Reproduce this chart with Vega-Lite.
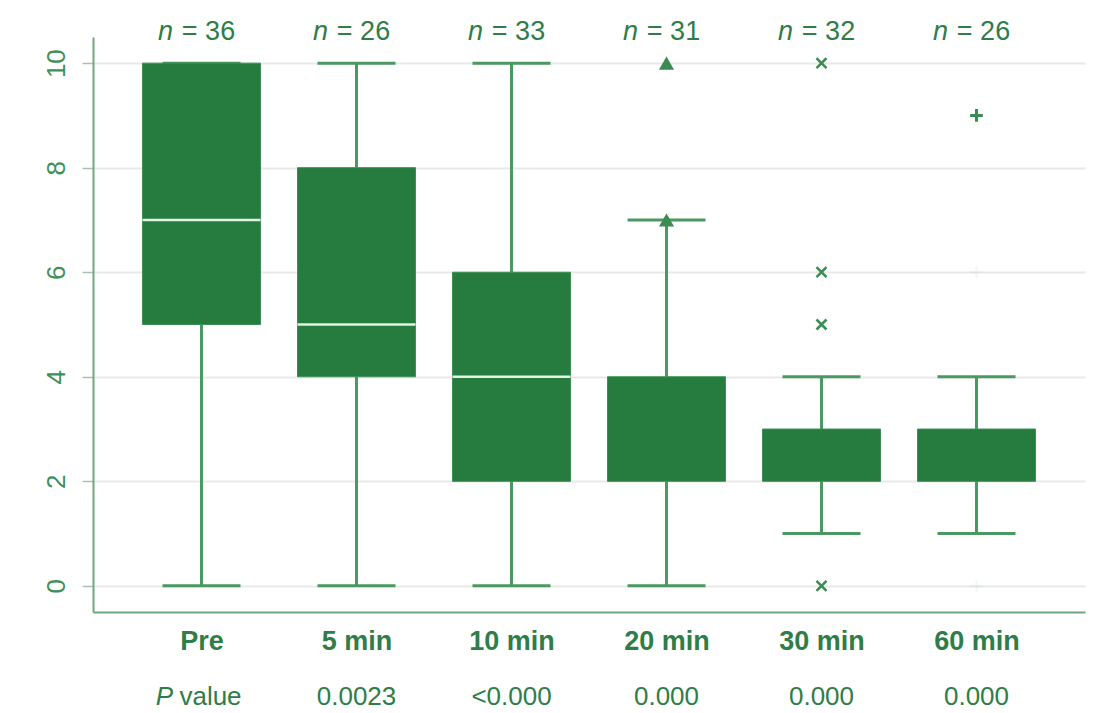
{
  "$schema": "https://vega.github.io/schema/vega-lite/v6.json",
  "autosize": {"type": "none"},
  "width": 992,
  "height": 575,
  "padding": {"left": 93, "top": 37, "right": 12, "bottom": 101},
  "background": "white",
  "config": {"font": "Liberation Sans", "view": {"stroke": null}},
  "datasets": {
    "boxes": [
      {"t": "Pre", "lo": 0, "q1": 5, "med": 7, "q3": 10, "hi": 10, "n": "= 36", "pv": "P value"},
      {"t": "5 min", "lo": 0, "q1": 4, "med": 5, "q3": 8, "hi": 10, "n": "= 26", "pv": "0.0023"},
      {"t": "10 min", "lo": 0, "q1": 2, "med": 4, "q3": 6, "hi": 10, "n": "= 33", "pv": "<0.000"},
      {"t": "20 min", "lo": 0, "q1": 2, "med": null, "q3": 4, "hi": 7, "n": "= 31", "pv": "0.000"},
      {"t": "30 min", "lo": 1, "q1": 2, "med": null, "q3": 3, "hi": 4, "n": "= 32", "pv": "0.000"},
      {"t": "60 min", "lo": 1, "q1": 2, "med": null, "q3": 3, "hi": 4, "n": "= 26", "pv": "0.000"}
    ],
    "outliers": [
      {"t": "20 min", "v": 10, "s": "tri", "faint": false},
      {"t": "20 min", "v": 7, "s": "tri", "faint": false},
      {"t": "30 min", "v": 10, "s": "x", "faint": false},
      {"t": "30 min", "v": 6, "s": "x", "faint": false},
      {"t": "30 min", "v": 5, "s": "x", "faint": false},
      {"t": "30 min", "v": 0, "s": "x", "faint": false},
      {"t": "60 min", "v": 9, "s": "plus", "faint": false},
      {"t": "60 min", "v": 6, "s": "plus", "faint": true},
      {"t": "60 min", "v": 0, "s": "plus", "faint": true}
    ]
  },
  "encoding": {
    "x": {
      "field": "t", "type": "nominal", "sort": ["Pre", "5 min", "10 min", "20 min", "30 min", "60 min"],
      "scale": {"type": "point", "padding": 0.7},
      "axis": {
        "title": null, "ticks": false, "labelAngle": 0, "labelFontSize": 27, "labelFontWeight": "bold",
        "labelColor": "#2f7d48", "labelPadding": 16, "domainColor": "#6fa880", "domainWidth": 2, "grid": false
      }
    }
  },
  "layer": [
    {
      "data": {"name": "boxes"},
      "mark": {"type": "rule", "color": "#4a9862", "strokeWidth": 3},
      "encoding": {
        "y": {
          "field": "lo", "type": "quantitative",
          "scale": {"domain": [-0.5, 10.5], "nice": false, "zero": false},
          "axis": {
            "title": null, "values": [0, 2, 4, 6, 8, 10], "labelAngle": -90, "labelAlign": "center",
            "labelBaseline": "bottom", "labelFontSize": 26, "labelColor": "#3f8f5a", "labelPadding": 13,
            "tickSize": 11, "tickColor": "#a8c2af", "tickWidth": 1.5, "domainColor": "#6fa880", "domainWidth": 2,
            "grid": true, "gridColor": "#e7eae7", "gridWidth": 2
          }
        },
        "y2": {"field": "q1"}
      }
    },
    {
      "data": {"name": "boxes"},
      "mark": {"type": "rule", "color": "#4a9862", "strokeWidth": 3},
      "encoding": {"y": {"field": "q3", "type": "quantitative"}, "y2": {"field": "hi"}}
    },
    {
      "data": {"name": "boxes"},
      "mark": {"type": "tick", "color": "#4a9862", "thickness": 3, "size": 78, "orient": "horizontal", "opacity": 1},
      "encoding": {"y": {"field": "lo", "type": "quantitative"}}
    },
    {
      "data": {"name": "boxes"},
      "mark": {"type": "tick", "color": "#4a9862", "thickness": 3, "size": 78, "orient": "horizontal", "opacity": 1},
      "encoding": {"y": {"field": "hi", "type": "quantitative"}}
    },
    {
      "data": {"name": "boxes"},
      "mark": {"type": "bar", "color": "#267b3f", "width": 118, "stroke": "#3d8f55", "strokeWidth": 1},
      "encoding": {"y": {"field": "q1", "type": "quantitative"}, "y2": {"field": "q3"}}
    },
    {
      "data": {"name": "boxes"},
      "mark": {"type": "tick", "color": "#e2f2e5", "thickness": 2.5, "size": 118, "orient": "horizontal", "opacity": 1},
      "encoding": {"y": {"field": "med", "type": "quantitative"}}
    },
    {
      "data": {"name": "outliers"},
      "transform": [{"filter": "datum.s == 'tri'"}],
      "mark": {"type": "point", "shape": "triangle-up", "filled": true, "color": "#3a8c53", "size": 230, "opacity": 1},
      "encoding": {"y": {"field": "v", "type": "quantitative"}}
    },
    {
      "data": {"name": "outliers"},
      "transform": [{"filter": "datum.s == 'x' && !datum.faint"}],
      "mark": {"type": "point", "shape": "M-1,-1L1,1M1,-1L-1,1", "filled": false, "color": "#3a8c53", "size": 100, "strokeWidth": 2.5, "opacity": 1},
      "encoding": {"y": {"field": "v", "type": "quantitative"}}
    },
    {
      "data": {"name": "outliers"},
      "transform": [{"filter": "datum.s == 'plus' && !datum.faint"}],
      "mark": {"type": "point", "shape": "M-1,0L1,0M0,-1L0,1", "filled": false, "color": "#3a8c53", "size": 160, "strokeWidth": 3, "opacity": 1},
      "encoding": {"y": {"field": "v", "type": "quantitative"}}
    },
    {
      "data": {"name": "outliers"},
      "transform": [{"filter": "datum.faint"}],
      "mark": {"type": "point", "shape": "M-1,0L1,0M0,-1L0,1", "filled": false, "color": "#3a8c53", "size": 150, "strokeWidth": 2, "opacity": 0.06},
      "encoding": {"y": {"field": "v", "type": "quantitative"}}
    },
    {
      "data": {"name": "boxes"},
      "mark": {"type": "text", "text": "n", "fontStyle": "italic", "fontSize": 27, "color": "#2f7d48", "dx": -36, "baseline": "middle"},
      "encoding": {"y": {"datum": 10.6}}
    },
    {
      "data": {"name": "boxes"},
      "mark": {"type": "text", "fontSize": 27, "color": "#2f7d48", "dx": 7, "baseline": "middle"},
      "encoding": {"y": {"datum": 10.6}, "text": {"field": "n"}}
    },
    {
      "data": {"name": "boxes"},
      "transform": [{"filter": "datum.t != 'Pre'"}],
      "mark": {"type": "text", "fontSize": 26, "color": "#2f7d48", "baseline": "middle"},
      "encoding": {"y": {"datum": -2.12}, "text": {"field": "pv"}}
    },
    {
      "data": {"name": "boxes"},
      "transform": [{"filter": "datum.t == 'Pre'"}],
      "mark": {"type": "text", "text": "P", "fontStyle": "italic", "fontSize": 26, "color": "#2f7d48", "dx": -37, "baseline": "middle"},
      "encoding": {"y": {"datum": -2.12}}
    },
    {
      "data": {"name": "boxes"},
      "transform": [{"filter": "datum.t == 'Pre'"}],
      "mark": {"type": "text", "text": "value", "fontSize": 26, "color": "#2f7d48", "dx": 9, "baseline": "middle"},
      "encoding": {"y": {"datum": -2.12}}
    }
  ]
}
